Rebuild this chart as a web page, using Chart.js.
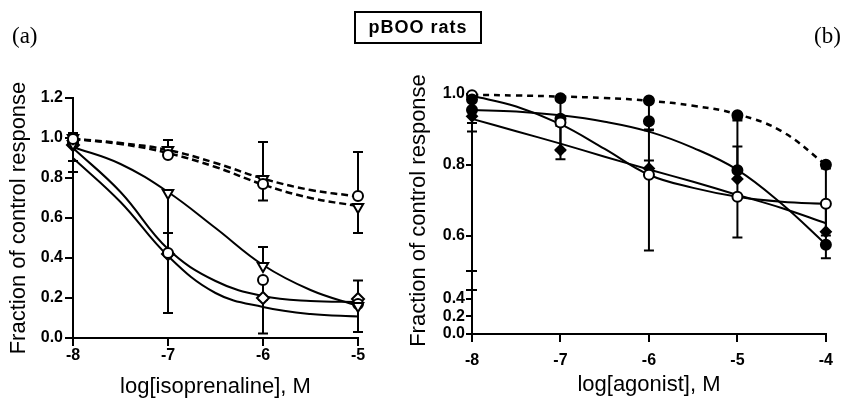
<!DOCTYPE html>
<html><head><meta charset="utf-8">
<script src="https://cdn.jsdelivr.net/npm/chart.js@4/dist/chart.umd.min.js"></script>
<style>
html,body{margin:0;padding:0;background:#fff;overflow:hidden;width:842px;height:398px;}
#wrap{position:relative;width:842px;height:398px;}
canvas{position:absolute;top:0;}
#ca{left:0;}
#cb{left:400px;}
.lab{position:absolute;font-family:'Liberation Serif','Times New Roman',serif;font-size:23px;color:#000;line-height:1;}
#title{position:absolute;left:354px;top:11px;width:124px;height:29px;border:2px solid #000;font-family:'Liberation Sans',Arial,sans-serif;font-weight:bold;font-size:18px;letter-spacing:1px;text-align:center;line-height:29px;color:#000;}
</style></head>
<body><div id="wrap">
<canvas id="ca" width="400" height="398"></canvas>
<canvas id="cb" width="442" height="398"></canvas>
<div class="lab" style="left:12px;top:24px">(a)</div>
<div class="lab" style="left:814px;top:24px">(b)</div>
<div id="title">pBOO rats</div>
</div>
<script>
// ---------- Panel (a): isoprenaline ----------
const aX = [-8, -7, -6, -5];
const aXTicks = [-8, -7, -6, -5];
const aYTicks = [0, 0.2, 0.4, 0.6, 0.8, 1.0, 1.2];
const aDashCircle = [0.995, 0.915, 0.77, 0.71];
const aDashCircleLo = [null, null, 0.687, null];
const aDashCircleHi = [null, null, null, 0.93];
const aDashTri = [1.0, 0.94, 0.795, 0.655];
const aDashTriLo = [null, null, null, 0.525];
const aDashTriHi = [1.025, 0.99, 0.98, null];
const aSolidTri = [0.97, 0.725, 0.36, 0.16];
const aSolidTriLo = [0.83, 0.125, null, 0.03];
const aSolidTriHi = [null, null, 0.455, null];
const aSolidCircle = [0.975, 0.425, 0.29, 0.17];
const aSolidCircleLo = [0.885, null, 0.19, null];
const aSolidCircleHi = [null, 0.525, null, null];
const aSolidDiamond = [0.965, 0.42, 0.2, 0.195];
const aSolidDiamondLo = [null, null, 0.023, null];
const aSolidDiamondHi = [null, null, null, 0.287];
// fitted curves
const aCurveX = [-8, -7.5, -7, -6.5, -6, -5.5, -5];
const aCurveDash1 = [0.995, 0.975, 0.94, 0.875, 0.797, 0.74, 0.708];
const aCurveDash2 = [0.995, 0.97, 0.925, 0.855, 0.767, 0.70, 0.66];
const aCurveTri = [0.955, 0.87, 0.73, 0.55, 0.365, 0.24, 0.16];
const aCurveMid = [0.95, 0.73, 0.445, 0.285, 0.21, 0.185, 0.18];
const aCurveLow = [0.9, 0.68, 0.41, 0.225, 0.155, 0.12, 0.107];

// ---------- Panel (b): agonists ----------
const bX = [-8, -7, -6, -5, -4];
const bXTicks = [-8, -7, -6, -5, -4];
const bYTicks = [0, 0.2, 0.4, 0.6, 0.8, 1.0];
const bDashFilled = [0.985, 0.988, 0.982, 0.94, 0.80];
const bDashFilledLo = [null, null, null, 0.93, null];
const bFilled = [0.955, 0.93, 0.923, 0.785, 0.574];
const bFilledLo = [0.918, null, 0.898, null, 0.536];
const bFilledHi = [null, null, 0.98, 0.925, 0.69];
const bOpen = [0.997, 0.92, 0.772, 0.71, 0.69];
const bOpenLo = [0.50, 0.84, 0.558, 0.595, 0.60];
const bOpenHi = [null, 0.985, 0.812, 0.852, 0.79];
const bDiamond = [0.937, 0.842, 0.79, 0.76, 0.611];
const bDiamondLo = [0.894, 0.816, null, null, null];
const bDiamondHi = [null, 0.91, 0.90, null, null];
const bCurveX = [-8, -7.5, -7, -6.5, -6, -5.5, -5, -4.5, -4];
const bCurveDash = [0.998, 0.996, 0.993, 0.989, 0.981, 0.967, 0.943, 0.895, 0.80];
const bCurveFilled = [0.955, 0.951, 0.94, 0.922, 0.894, 0.848, 0.786, 0.69, 0.575];
const bCurveOpen = [0.995, 0.965, 0.915, 0.845, 0.772, 0.735, 0.71, 0.696, 0.69];
const bCurveDiamond = [0.93, 0.895, 0.86, 0.823, 0.787, 0.752, 0.715, 0.678, 0.635];

// axis break layout for panel (b)
const BRK = { at: 0.5, lowerPx: 44, gapPx: 19 };

Chart.defaults.font.family = "'Liberation Sans', Arial, sans-serif";
Chart.defaults.color = '#000';

class BrokenScale extends Chart.LinearScale {
  static id = 'broken';
  _seg() {
    const lowBottom = this.bottom;
    const lowTop = this.bottom - BRK.lowerPx;
    const upBottom = lowTop - BRK.gapPx;
    return { lowBottom, lowTop, upBottom, upTop: this.top };
  }
  getPixelForValue(v) {
    if (v === null || v === undefined || isNaN(v)) return NaN;
    const s = this._seg();
    if (v <= BRK.at) return s.lowBottom - (v - this.min) / (BRK.at - this.min) * (s.lowBottom - s.lowTop);
    return s.upBottom - (v - BRK.at) / (this.max - BRK.at) * (s.upBottom - s.upTop);
  }
  getValueForPixel(p) {
    const s = this._seg();
    if (p >= s.lowTop) return this.min + (s.lowBottom - p) / (s.lowBottom - s.lowTop) * (BRK.at - this.min);
    return BRK.at + (s.upBottom - p) / (s.upBottom - s.upTop) * (this.max - BRK.at);
  }
}
Chart.register(BrokenScale);

const pts = (xs, ys) => xs.map((x, i) => ({ x: x, y: ys[i] }));

const errorBars = {
  id: 'errorBars',
  beforeDatasetsDraw(chart) {
    const ctx = chart.ctx, ys = chart.scales.y;
    ctx.save();
    ctx.strokeStyle = '#000'; ctx.lineWidth = 2;
    chart.data.datasets.forEach((ds, i) => {
      if (!ds.errLo && !ds.errHi) return;
      const meta = chart.getDatasetMeta(i);
      meta.data.forEach((el, j) => {
        [ds.errLo ? ds.errLo[j] : null, ds.errHi ? ds.errHi[j] : null].forEach(v => {
          if (v === null || v === undefined) return;
          const py = ys.getPixelForValue(v);
          ctx.beginPath();
          ctx.moveTo(el.x, el.y); ctx.lineTo(el.x, py);
          ctx.moveTo(el.x - 5, py); ctx.lineTo(el.x + 5, py);
          ctx.stroke();
        });
      });
    });
    ctx.restore();
  }
};

const brokenAxis = {
  id: 'brokenAxis',
  beforeDatasetsDraw(chart) {
    const sc = chart.scales.y;
    if (!(sc instanceof BrokenScale)) return;
    const s = sc._seg();
    const x = sc.right;
    const ctx = chart.ctx;
    ctx.save();
    ctx.strokeStyle = '#000'; ctx.lineWidth = 2;
    ctx.beginPath();
    ctx.moveTo(x, s.lowBottom); ctx.lineTo(x, s.lowTop);
    ctx.moveTo(x - 6, s.lowTop); ctx.lineTo(x + 5, s.lowTop);
    ctx.moveTo(x, s.upBottom); ctx.lineTo(x, sc.getPixelForValue(1.0) - 4);
    ctx.moveTo(x - 6, s.upBottom); ctx.lineTo(x + 5, s.upBottom);
    ctx.stroke();
    ctx.restore();
  }
};

function pointSet(xs, ys, style, filled, lo, hi, radius) {
  return {
    data: pts(xs, ys), showLine: false, pointStyle: style,
    pointRotation: style === 'triangle' ? 180 : 0,
    pointRadius: radius, pointBorderWidth: 2,
    pointBorderColor: '#000', pointBackgroundColor: filled ? '#000' : '#fff',
    borderColor: '#000', errLo: lo, errHi: hi, clip: false
  };
}
function curveSet(xs, ys, dashed, width, dash) {
  return {
    data: pts(xs, ys), showLine: true, pointRadius: 0, borderColor: '#000',
    borderWidth: width, borderDash: dashed ? dash : [], tension: 0.4,
    fill: false, clip: false
  };
}

function axisCommon(extra) {
  return Object.assign({
    grid: { display: true, drawOnChartArea: false, drawTicks: true, color: '#000', lineWidth: 2, tickLength: 8, tickWidth: 2, tickColor: '#000' },
    border: { display: true, color: '#000', width: 2 }
  }, extra);
}

const tickFont = { size: 16, weight: 'bold' };

new Chart(document.getElementById('ca'), {
  type: 'scatter',
  data: { datasets: [
    pointSet(aX, aDashCircle, 'circle', false, aDashCircleLo, aDashCircleHi, 5),
    pointSet(aX, aDashTri, 'triangle', false, aDashTriLo, aDashTriHi, 6),
    pointSet(aX, aSolidTri, 'triangle', false, aSolidTriLo, aSolidTriHi, 6),
    pointSet(aX, aSolidCircle, 'circle', false, aSolidCircleLo, aSolidCircleHi, 5),
    pointSet(aX, aSolidDiamond, 'rectRot', false, aSolidDiamondLo, aSolidDiamondHi, 6),
    curveSet(aCurveX, aCurveDash1, true, 2.5, [7, 4]),
    curveSet(aCurveX, aCurveDash2, true, 2.5, [7, 4]),
    curveSet(aCurveX, aCurveTri, false, 2),
    curveSet(aCurveX, aCurveMid, false, 2),
    curveSet(aCurveX, aCurveLow, false, 2)
  ]},
  options: {
    responsive: false, animation: false, devicePixelRatio: 1,
    layout: { padding: { left: 0, top: 98, right: 42, bottom: 0 } },
    plugins: { legend: { display: false }, tooltip: { enabled: false } },
    scales: {
      x: axisCommon({
        type: 'linear', min: -8, max: -5,
        afterFit: s => { s.height = 60; },
        afterBuildTicks: s => { s.ticks = aXTicks.map(v => ({ value: v })); },
        ticks: { font: tickFont, padding: 0, autoSkip: false, maxRotation: 0, callback: v => String(v) },
        title: { display: true, text: 'log[isoprenaline], M', font: { size: 22 }, padding: { top: 0, bottom: -2 } }
      }),
      y: axisCommon({
        type: 'linear', min: 0, max: 1.2,
        afterFit: s => { s.width = 73; },
        afterBuildTicks: s => { s.ticks = aYTicks.map(v => ({ value: v })); },
        ticks: { font: tickFont, padding: 2, autoSkip: false, callback: v => v.toFixed(1) },
        title: { display: true, text: 'Fraction of control response', font: { size: 22 }, padding: { top: 6, bottom: 0 } }
      })
    }
  },
  plugins: [errorBars]
});

const bY = axisCommon({
  type: 'broken', min: 0, max: 1.02,
  afterFit: s => { s.width = 72; },
  afterBuildTicks: s => { s.ticks = bYTicks.map(v => ({ value: v })); },
  ticks: { font: tickFont, padding: 1, autoSkip: false, callback: v => v.toFixed(1) },
  title: { display: true, text: 'Fraction of control response', font: { size: 22 }, padding: { top: 6, bottom: 0 } }
});
bY.border = { display: false };
bY.grid.tickLength = 6;

new Chart(document.getElementById('cb'), {
  type: 'scatter',
  data: { datasets: [
    pointSet(bX, bDashFilled, 'circle', true, bDashFilledLo, null, 5),
    pointSet(bX, bOpen, 'circle', false, bOpenLo, bOpenHi, 5),
    pointSet(bX, bFilled, 'circle', true, bFilledLo, bFilledHi, 5),
    pointSet(bX, bDiamond, 'rectRot', true, bDiamondLo, bDiamondHi, 5),
    curveSet(bCurveX, bCurveDash, true, 2.5, [6, 5]),
    curveSet(bCurveX, bCurveFilled, false, 2),
    curveSet(bCurveX, bCurveOpen, false, 2),
    curveSet(bCurveX, bCurveDiamond, false, 2)
  ]},
  options: {
    responsive: false, animation: false, devicePixelRatio: 1,
    layout: { padding: { left: 0, top: 87, right: 9, bottom: 0 } },
    plugins: { legend: { display: false }, tooltip: { enabled: false } },
    scales: {
      x: axisCommon({
        type: 'linear', min: -8, max: -4,
        afterFit: s => { s.height = 64; },
        afterBuildTicks: s => { s.ticks = bXTicks.map(v => ({ value: v })); },
        ticks: { font: tickFont, padding: 9, autoSkip: false, maxRotation: 0, callback: v => String(v) },
        title: { display: true, text: 'log[agonist], M', font: { size: 22 }, padding: { top: 0, bottom: 0 } }
      }),
      y: bY
    }
  },
  plugins: [errorBars, brokenAxis]
});
</script>
</body></html>
